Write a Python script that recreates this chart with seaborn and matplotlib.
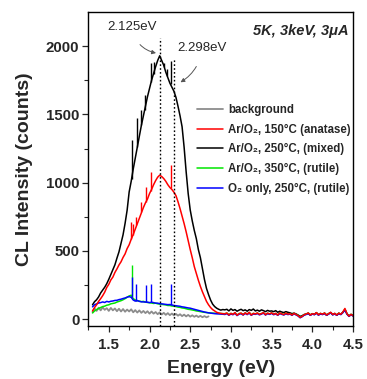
import numpy as np
import pandas as pd
import matplotlib
matplotlib.use("Agg")
import matplotlib.pyplot as plt
import seaborn as sns

# ---------------- data ----------------
E_START, E_STEP, N_PTS = 1.3, 0.025, 129
energy = [round(E_START + E_STEP * i, 3) for i in range(N_PTS)]

background = [52, 78, 60, 84, 64, 86, 68, 80, 60, 82,
              64, 78, 58, 76, 56, 74, 54, 70, 56, 72,
              50, 66, 48, 64, 46, 60, 44, 58, 40, 56,
              40, 52, 36, 50, 34, 46, 31, 44, 29, 41,
              27, 38, 25, 36, 22, 33, 20, 31, 18, 28,
              17, 26, 15, 24, 14, 22, 13, 20]

anatase = [60, 85, 105, 130, 150, 172, 198, 232, 255, 287,
           308, 342, 368, 397, 420, 452, 478, 517, 545, 585,
           620, 660, 700, 740, 782, 818, 852, 880, 920, 950,
           985, 1015, 1040, 1055, 1045, 1030, 1010, 985, 965, 950,
           930, 905, 860, 810, 755, 700, 640, 575, 510, 450,
           385, 335, 285, 240, 200, 165, 130, 105, 85, 70,
           60, 50, 45, 42, 40,
           38, 45, 30, 42, 35, 48, 28, 40,
           44, 32, 46, 36, 50, 30, 42, 38,
           45, 34, 40, 48, 32, 44, 38, 46,
           35, 42, 30, 45, 38, 33, 44, 36,
           40, 30, 42, 34, 25, 12, 20, 32,
           38, 45, 30, 40, 35, 48, 32, 42,
           36, 45, 30, 40, 50, 34, 42, 30,
           44, 36, 52, 78, 40, 22, 35, 25]

mixed = [105, 128, 142, 163, 192, 213, 234, 260, 292, 328,
         366, 398, 447, 493, 557, 618, 702, 798, 932, 1010,
         1100, 1180, 1262, 1340, 1420, 1490, 1560, 1630, 1690, 1750,
         1800, 1850, 1895, 1930, 1895, 1860, 1810, 1770, 1730, 1700,
         1670, 1625, 1560, 1490, 1410, 1260, 1080, 920, 800, 720,
         650, 590, 510, 450, 370, 290, 225, 180, 140, 110,
         92, 80, 72, 66, 70,
         68, 72, 60, 75, 64, 70, 58, 66,
         72, 62, 68, 58, 70, 64, 74, 60,
         66, 58, 68, 62, 55, 64, 58, 60,
         55, 62, 50, 58, 52, 48, 55, 50,
         46, 40, 44, 38, 30, 20, 25, 34,
         37, 43, 30, 39, 34, 46, 31, 41,
         35, 43, 29, 39, 48, 33, 41, 29,
         43, 35, 50, 70, 39, 22, 34, 25]

rutile = [45, 60, 70, 78, 85, 92, 95, 102, 105, 112,
          115, 118, 125, 130, 135, 142, 150, 160, 170, 175,
          150, 140, 135, 132, 128, 130, 125, 122, 120, 118,
          115, 117, 112, 110, 108, 106, 104, 100, 100, 96,
          95, 92, 88, 86, 82, 80, 76, 72, 70, 67,
          64, 60, 58, 55, 52, 50, 48, 46, 45, 44,
          43, 42, 42, 41, 40,
          40, 44, 33, 42, 36, 46, 30, 41,
          43, 33, 45, 37, 48, 31, 42, 38,
          44, 35, 41, 46, 33, 43, 38, 45,
          36, 41, 31, 44, 38, 34, 43, 36,
          40, 31, 41, 34, 26, 14, 21, 32,
          37, 44, 31, 40, 35, 47, 33, 41,
          36, 44, 31, 40, 48, 34, 41, 31,
          43, 36, 50, 72, 40, 23, 35, 26]

o2_only = [90, 105, 112, 118, 121, 126, 122, 130, 126, 131,
           133, 137, 138, 143, 146, 151, 155, 161, 165, 160,
           140, 132, 136, 130, 127, 126, 125, 124, 121, 124,
           121, 117, 117, 113, 112, 110, 108, 106, 107, 104,
           100, 98, 96, 94, 90, 88, 85, 82, 80, 76,
           72, 68, 64, 60, 56, 52, 49, 46, 44, 42,
           40, 39, 38, 37, 36,
           34, 40, 28, 38, 32, 43, 26, 36,
           40, 30, 42, 33, 45, 28, 38, 35,
           41, 31, 37, 44, 30, 40, 35, 42,
           32, 39, 28, 41, 35, 30, 40, 33,
           37, 28, 39, 31, 23, 10, 18, 29,
           34, 41, 28, 37, 32, 44, 29, 38,
           33, 41, 28, 37, 46, 31, 38, 28,
           40, 33, 48, 66, 37, 20, 32, 23]

# narrow spikes: energy, base level, top level
mixed_spike_E = [1.78, 1.85, 1.90, 1.94, 2.02, 2.05, 2.18, 2.22, 2.26]
mixed_spike_lo = [1030, 1260, 1420, 1530, 1740, 1800, 1850, 1780, 1720]
mixed_spike_hi = [1311, 1472, 1531, 1640, 1875, 1885, 1880, 1830, 1890]
anatase_spike_E = [1.775, 1.80, 1.84, 1.90, 1.96, 2.02, 2.26]
anatase_spike_lo = [585, 620, 690, 782, 860, 940, 960]
anatase_spike_hi = [710, 700, 750, 860, 970, 1080, 1130]
rutile_spike_E = [1.78]
rutile_spike_lo = [170]
rutile_spike_hi = [396]
o2_spike_E = [1.78, 1.84, 1.96, 2.02, 2.26]
o2_spike_lo = [160, 134, 125, 122, 104]
o2_spike_hi = [310, 261, 249, 261, 260]

series_labels = ["background",
                 "Ar/O\u2082, 150\u00b0C (anatase)",
                 "Ar/O\u2082, 250\u00b0C, (mixed)",
                 "Ar/O\u2082, 350\u00b0C, (rutile)",
                 "O\u2082 only, 250\u00b0C, (rutile)"]
series_colors = ["#8c8c8c", "#ff0000", "#000000", "#00e600", "#0000ff"]

peak_energies = [2.125, 2.298]
peak_line_tops = [2058, 1912]
peak_labels = ["2.125eV", "2.298eV"]
x_ticks = [1.5, 2.0, 2.5, 3.0, 3.5, 4.0, 4.5]
y_ticks = [0, 500, 1000, 1500, 2000]

# ---------------- plotting ----------------
sns.set_style("ticks")
plt.rcParams['font.family'] = ['Liberation Sans', 'DejaVu Sans']

fig = plt.figure(figsize=(3.67, 3.79), dpi=100)
ax = fig.add_axes([0.241, 0.140, 0.721, 0.828])

all_series = [background, anatase, mixed, rutile, o2_only]
spikes = {1: (anatase_spike_E, anatase_spike_lo, anatase_spike_hi),
          2: (mixed_spike_E, mixed_spike_lo, mixed_spike_hi),
          3: (rutile_spike_E, rutile_spike_lo, rutile_spike_hi),
          4: (o2_spike_E, o2_spike_lo, o2_spike_hi)}
frames = []
for lab, vals in zip(series_labels, all_series):
    frames.append(pd.DataFrame({"Energy": energy[:len(vals)],
                                "Counts": vals, "Sample": lab}))
df = pd.concat(frames, ignore_index=True)

draw_order = [0, 2, 3, 4, 1]  # red drawn last (on top)
handles = {}
for k in draw_order:
    sub = df[df["Sample"] == series_labels[k]]
    sns.lineplot(data=sub, x="Energy", y="Counts", color=series_colors[k],
                 lw=1.3 if k == 0 else 1.1, ax=ax, estimator=None,
                 sort=False, legend=False)
    handles[k] = ax.lines[-1]
    if k in spikes:
        sE, slo, shi = spikes[k]
        ax.vlines(sE, slo, shi, colors=series_colors[k], lw=1.0)

# dotted peak markers
for pe, top in zip(peak_energies, peak_line_tops):
    ax.vlines(pe, -50, top, colors="k", linestyles=(0, (1.2, 1.6)), lw=1.0)

# annotations
ax.annotate(peak_labels[0], xy=(2.08, 1950), xytext=(1.79, 2140),
            fontsize=9.5, ha="center", va="center",
            arrowprops=dict(arrowstyle="-|>", color="#555555", lw=0.7,
                            shrinkA=7, shrinkB=0, mutation_scale=6,
                            connectionstyle="arc3,rad=0.35"))
ax.annotate(peak_labels[1], xy=(2.38, 1736), xytext=(2.644, 1985),
            fontsize=9.5, ha="center", va="center",
            arrowprops=dict(arrowstyle="-|>", color="#555555", lw=0.7,
                            shrinkA=7, shrinkB=0, mutation_scale=6,
                            connectionstyle="arc3,rad=-0.25"))

ax.text(0.985, 0.94, "5K, 3keV, 3\u03bcA", transform=ax.transAxes,
        ha="right", va="center", fontsize=10.5, fontweight="bold", style="italic")

ax.set_xlim(1.3, 4.5)
ax.set_ylim(-50, 2250)
ax.set_xticks(x_ticks)
ax.set_yticks(y_ticks)
ax.set_xticks(np.arange(1.25, 4.51, 0.25), minor=True)
ax.set_yticks(np.arange(250, 2250, 500), minor=True)
ax.tick_params(axis="both", which="major", direction="out", length=4.5, width=0.9,
               labelsize=10.8, pad=2)
ax.tick_params(axis="x", which="major", pad=4)
ax.tick_params(axis="both", which="minor", direction="out", length=3, width=0.8)
for lbl in ax.get_xticklabels() + ax.get_yticklabels():
    lbl.set_fontweight("bold")

ax.set_xlabel("Energy (eV)", fontsize=14, fontweight="bold", labelpad=6)
ax.set_ylabel("CL Intensity (counts)", fontsize=14, fontweight="bold", labelpad=9)

for sp in ax.spines.values():
    sp.set_visible(True)
    sp.set_linewidth(1.0)
    sp.set_color("black")

leg = ax.legend([handles[k] for k in range(5)], series_labels,
                loc="upper left", bbox_to_anchor=(0.41, 0.707),
                frameon=False, fontsize=8.3, handlelength=2.25,
                handletextpad=0.43, labelspacing=0.66,
                borderpad=0, borderaxespad=0)
for t in leg.get_texts():
    t.set_fontweight("bold")

fig.savefig("out.png", dpi=100)
